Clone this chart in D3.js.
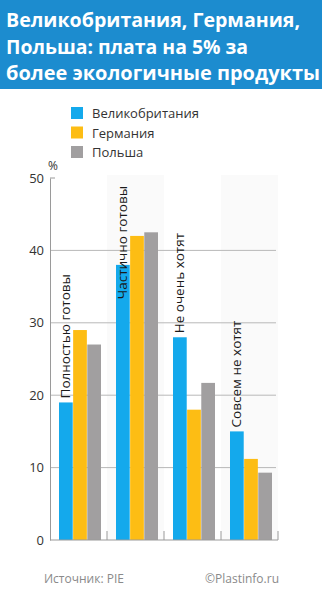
<!DOCTYPE html>
<html>
<head>
<meta charset="utf-8">
<script src="https://cdn.jsdelivr.net/npm/d3@7"></script>
<style>
  body { margin: 0; background: #fff; }
  text { font-family: "Open Sans", "Noto Sans", sans-serif; }
</style>
</head>
<body>
<div id="chart"></div>
<script>
// Data
const titleLines = ['Великобритания, Германия,', 'Польша: плата на 5% за', 'более экологичные продукты'];
const countries = ['Великобритания', 'Германия', 'Польша'];
const categories = ['Полностью готовы', 'Частично готовы', 'Не очень хотят', 'Совсем не хотят'];
const ukValues = [19, 38, 28, 15];
const deValues = [29, 42, 18, 11.2];
const plValues = [27, 42.5, 21.7, 9.3];
const yTicks = [0, 10, 20, 30, 40, 50];

const W = 326, H = 600;
const colors = ['#14a9ec', '#fdbd14', '#a19fa0'];
const series = [ukValues, deValues, plValues];

const svg = d3.select('#chart').append('svg')
    .attr('width', W)
    .attr('height', H);

// Title box
svg.append('rect')
    .attr('x', 0).attr('y', 0)
    .attr('width', 322).attr('height', 89)
    .attr('fill', '#1c8ccf');

const titleWidths = [294, 242, 314];
svg.append('g').selectAll('text')
    .data(titleLines)
    .join('text')
    .attr('x', 6)
    .attr('y', (d, i) => 27 + i * 26.5)
    .attr('fill', '#fff')
    .attr('font-size', 20)
    .attr('font-weight', 700)
    .attr('textLength', (d, i) => titleWidths[i])
    .attr('lengthAdjust', 'spacingAndGlyphs')
    .text(d => d);

// Legend
const legend = svg.append('g').attr('transform', 'translate(71,107)');
countries.forEach((c, i) => {
    legend.append('rect')
        .attr('x', 0).attr('y', i * 19.5)
        .attr('width', 12).attr('height', 12)
        .attr('fill', colors[i]);
    legend.append('text')
        .attr('x', 21).attr('y', i * 19.5 + 11)
        .attr('font-size', 13)
        .attr('fill', '#333')
        .text(c);
});

// Scales
const x0 = 50, x1 = 278;
const x = d3.scaleBand().domain(categories).range([x0, x1]);
const xInner = d3.scaleBand().domain(d3.range(3)).range([9, x.bandwidth() - 6]).paddingInner(0.03);
const y = d3.scaleLinear().domain([0, 50]).range([540, 178]);

// Alternating background columns (very faint)
svg.append('g').selectAll('rect')
    .data(categories.filter((d, i) => i % 2 === 1))
    .join('rect')
    .attr('x', d => x(d))
    .attr('y', y(50) - 3)
    .attr('width', x.bandwidth())
    .attr('height', y(0) - y(50) + 3)
    .attr('fill', '#fafafa');

// Grid lines
svg.append('g').selectAll('line')
    .data(yTicks.filter(t => t > 0 && t < 50))
    .join('line')
    .attr('x1', x0).attr('x2', x1 - 2)
    .attr('y1', d => y(d)).attr('y2', d => y(d))
    .attr('stroke', '#b8b8b8')
    .attr('stroke-width', 1);

// Bars
const groups = svg.append('g').selectAll('g')
    .data(categories)
    .join('g')
    .attr('transform', d => `translate(${x(d)},0)`);

groups.selectAll('rect')
    .data((d, ci) => series.map((s, si) => ({ si, v: s[ci] })))
    .join('rect')
    .attr('x', d => xInner(d.si))
    .attr('width', xInner.bandwidth())
    .attr('y', d => y(d.v))
    .attr('height', d => y(0) - y(d.v))
    .attr('fill', d => colors[d.si]);

// Category labels (rotated)
groups.append('text')
    .attr('font-size', 13.5)
    .attr('fill', '#1a1a1a')
    .text(d => d)
    .each(function (d, ci) {
        const t = d3.select(this);
        const len = this.getComputedTextLength();
        let bottom = y(ukValues[ci]) - 4;
        if (bottom - len < y(50) + 8) bottom = y(50) + 8 + len;
        const cx = xInner(0) + 11;
        t.attr('transform', `translate(${cx},${bottom}) rotate(-90)`);
    });

// Y axis
const yAxis = svg.append('g')
    .attr('transform', `translate(${x0},0)`)
    .call(d3.axisLeft(y).tickValues(yTicks).tickSize(0).tickPadding(6));
yAxis.select('.domain').attr('stroke', '#9a9a9a');
yAxis.selectAll('text')
    .attr('font-size', 13)
    .attr('fill', '#333')
    .style('font-family', '"Open Sans", sans-serif');
yAxis.append('line')
    .attr('x1', 0).attr('x2', 5)
    .attr('y1', y(50)).attr('y2', y(50))
    .attr('stroke', '#9a9a9a');
svg.append('text')
    .attr('x', 48).attr('y', 170)
    .attr('font-size', 12)
    .attr('fill', '#333')
    .text('%');

// X baseline with upward ticks at group edges
svg.append('line')
    .attr('x1', x0).attr('x2', x1)
    .attr('y1', y(0)).attr('y2', y(0))
    .attr('stroke', '#9a9a9a');
svg.append('g').selectAll('line')
    .data(categories)
    .join('line')
    .attr('x1', d => x(d) + x.bandwidth())
    .attr('x2', d => x(d) + x.bandwidth())
    .attr('y1', y(0)).attr('y2', y(0) - 9)
    .attr('stroke', '#9a9a9a');

// Footer
svg.append('text')
    .attr('x', 44).attr('y', 583)
    .attr('font-size', 12)
    .attr('fill', '#8a8a8a')
    .text('Источник: PIE');
svg.append('text')
    .attr('x', 279).attr('y', 583)
    .attr('text-anchor', 'end')
    .attr('font-size', 12)
    .attr('fill', '#8a8a8a')
    .text('©Plastinfo.ru');
</script>
</body>
</html>
